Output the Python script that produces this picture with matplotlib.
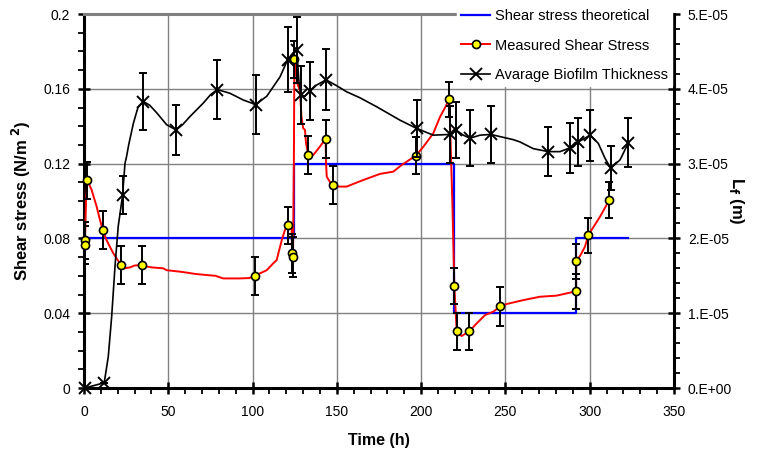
import matplotlib
matplotlib.use("Agg")
import matplotlib.pyplot as plt
from matplotlib.lines import Line2D
from matplotlib.ticker import FixedLocator, FixedFormatter, MultipleLocator
import numpy as np

plt.rcParams['font.family'] = ['Liberation Sans', 'DejaVu Sans']

# ---- Theoretical shear stress (step) ----
theo_x = [0, 124.4, 124.4, 219.5, 219.5, 292.0, 292.0, 323.0]
theo_y = [0.08, 0.08, 0.12, 0.12, 0.04, 0.04, 0.08, 0.08]

# ---- Measured shear stress: continuous trace ----
meas_line_x = [0.3, 0.6, 1.2, 2.0, 4.5, 7.5, 9.5, 11.1, 13.4, 17.4, 21.9, 24.0, 27.3, 30.0,
               34.6, 37.0, 40.2, 47.0, 49.0, 57.0, 61.0, 66.0, 72.8, 78.0, 82.6, 92.5, 98.0,
               101.4, 104.4, 108.4, 112.3, 114.3, 115.3, 117.3, 119.2, 120.8, 122.0, 123.2,
               123.4, 124.0, 124.5, 124.8, 125.5, 126.5, 128.1, 129.0, 130.0, 131.1, 131.7,
               133.0, 136.0, 139.0, 143.3, 143.6, 144.0, 146.0, 147.9, 151.0, 155.8, 165.0,
               175.6, 183.5, 188.5, 196.8, 201.3, 207.2, 211.2, 214.2, 216.7, 218.5, 219.7,
               221.1, 224.0, 228.6, 233.0, 237.9, 242.8, 247.0, 250.7, 260.6, 270.5, 280.4,
               286.3, 291.9, 292.0, 294.5, 297.2, 299.2, 306.1, 311.6]
meas_line_y = [0.076, 0.079, 0.100, 0.111, 0.106, 0.097, 0.0898, 0.0845, 0.079, 0.072, 0.0658,
               0.064, 0.0645, 0.0655, 0.0658, 0.065, 0.0645, 0.0640, 0.063, 0.0622, 0.0617,
               0.061, 0.0604, 0.060, 0.0586, 0.0586, 0.0588, 0.060, 0.0613, 0.063, 0.0667,
               0.0684, 0.072, 0.079, 0.0845, 0.087, 0.088, 0.0854, 0.071, 0.070, 0.120, 0.1757,
               0.170, 0.163, 0.159, 0.145, 0.139, 0.138, 0.131, 0.1246, 0.1246, 0.128, 0.1331,
               0.120, 0.113, 0.110, 0.1086, 0.1077, 0.1077, 0.111, 0.1145, 0.1157, 0.1193,
               0.1242, 0.129, 0.1362, 0.145, 0.150, 0.1544, 0.100, 0.0545, 0.0303, 0.0278,
               0.0303, 0.0346, 0.039, 0.0408, 0.0437, 0.0449, 0.047, 0.0488, 0.0494, 0.0506,
               0.0517, 0.0677, 0.071, 0.0756, 0.0818, 0.0916, 0.1005]

# ---- Measured shear stress: sampled points with error ----
meas_pt_x = [0.6, 0.6, 2.0, 11.1, 21.9, 34.6, 101.4, 120.8, 123.4, 124.0, 124.8, 133.0, 143.3,
             147.9, 196.8, 216.7, 219.7, 221.1, 228.6, 247.0, 291.9, 292.0, 299.2, 311.6]
meas_pt_y = [0.0790, 0.0765, 0.111, 0.0845, 0.0658, 0.0658, 0.060, 0.087, 0.072, 0.070, 0.1757,
             0.1246, 0.1331, 0.1086, 0.1242, 0.1544, 0.0545, 0.0303, 0.0303, 0.0437, 0.0517,
             0.0677, 0.0816, 0.1005]
meas_pt_err = [0.010, 0.010, 0.0099, 0.010, 0.010, 0.010, 0.0103, 0.010, 0.0105, 0.0105, 0.010,
               0.010, 0.010, 0.010, 0.010, 0.0095, 0.0095, 0.010, 0.010, 0.0105, 0.0095, 0.0095,
               0.0095, 0.0095]

# ---- Average biofilm thickness (units of 1e-5 m): continuous trace ----
bio_line_x = [0.5, 12.0, 14.4, 16.4, 18.4, 20.3, 22.9, 24.3, 25.3, 26.5, 29.3, 32.0, 35.2, 39.0,
              43.1, 49.0, 54.6, 58.5, 62.9, 70.8, 75.0, 79.1, 86.6, 94.5, 101.8, 108.4, 116.3,
              120.8, 124.0, 126.2, 127.5, 128.6, 131.0, 134.0, 138.0, 143.6, 150.0, 155.8,
              163.7, 173.6, 187.5, 197.4, 207.2, 217.1, 220.7, 225.0, 229.0, 234.9, 241.3,
              247.0, 254.7, 258.6, 266.5, 275.4, 282.4, 288.3, 293.3, 300.2, 305.1, 309.1,
              312.4, 318.0, 323.0]
bio_line_y = [0.0, 0.07, 0.42, 0.95, 1.63, 2.16, 2.58, 3.00, 3.10, 3.25, 3.54, 3.75, 3.83, 3.78,
              3.68, 3.52, 3.45, 3.52, 3.63, 3.81, 3.92, 3.99, 3.94, 3.85, 3.79, 3.90, 4.16,
              4.39, 4.48, 4.52, 4.10, 3.92, 3.90, 3.97, 4.05, 4.12, 4.04, 3.96, 3.88, 3.76,
              3.58, 3.47, 3.38, 3.39, 3.45, 3.38, 3.34, 3.38, 3.39, 3.36, 3.32, 3.29, 3.20,
              3.16, 3.16, 3.21, 3.29, 3.38, 3.27, 3.07, 2.94, 3.05, 3.28]

# ---- Average biofilm thickness: sampled points with error (1e-5 m) ----
bio_pt_x = [0.5, 12.0, 22.9, 35.2, 54.6, 79.1, 101.8, 120.8, 126.2, 128.6, 134.0, 143.6, 197.4,
            217.1, 220.7, 229.0, 241.3, 275.4, 288.3, 293.3, 300.2, 312.4, 323.0]
bio_pt_y = [0.0, 0.07, 2.58, 3.83, 3.45, 3.99, 3.79, 4.39, 4.52, 3.92, 3.97, 4.12, 3.47, 3.39,
            3.45, 3.34, 3.39, 3.16, 3.21, 3.29, 3.38, 2.94, 3.28]
bio_pt_err = [0.0, 0.0, 0.25, 0.375, 0.34, 0.39, 0.39, 0.43, 0.44, 0.39, 0.39, 0.41, 0.38, 0.38,
              0.38, 0.37, 0.38, 0.33, 0.33, 0.32, 0.34, 0.29, 0.33]
bio_scale = 1e-5

# ---- ticks ----
x_ticks = [0, 50, 100, 150, 200, 250, 300, 350]
x_labels = ['0', '50', '100', '150', '200', '250', '300', '350']
yl_ticks = [0, 0.04, 0.08, 0.12, 0.16, 0.2]
yl_labels = ['0', '0.04', '0.08', '0.12', '0.16', '0.2']
yr_ticks = [0, 1e-5, 2e-5, 3e-5, 4e-5, 5e-5]
yr_labels = ['0.E+00', '1.E-05', '2.E-05', '3.E-05', '4.E-05', '5.E-05']

fig = plt.figure(figsize=(7.61, 4.61), dpi=100)
ax = fig.add_axes([84/761, 73/461, 590/761, 374/461])
ax2 = ax.twinx()

ax.set_xlim(0, 350)
ax.set_ylim(0, 0.2)
ax2.set_ylim(0, 5e-5)

# grid
ax.grid(True, which='major', color='#808080', linewidth=1.0)
ax.set_axisbelow(True)

# theoretical
ax.plot(theo_x, theo_y, color='#0000ff', lw=1.6, zorder=3)
# measured
ax.plot(meas_line_x, meas_line_y, color='#ff0000', lw=1.4, zorder=3)
ax.errorbar(meas_pt_x, meas_pt_y, yerr=meas_pt_err, fmt='none', ecolor='black',
            elinewidth=1.4, capsize=3, capthick=1.4, zorder=4)
ax.plot(meas_pt_x, meas_pt_y, ls='none', marker='o', ms=5.8, mfc='#ffff00', mec='black',
        mew=1.2, zorder=6, clip_on=False)

# biofilm on right axis
bx = np.array(bio_pt_x)
by = np.array(bio_pt_y) * bio_scale
be = np.array(bio_pt_err) * bio_scale
ax2.plot(bio_line_x, np.array(bio_line_y) * bio_scale, color='black', lw=1.2, zorder=3)
ax2.errorbar(bx, by, yerr=be, fmt='none', ecolor='black', elinewidth=1.4, capsize=3,
             capthick=1.4, zorder=4)
ax2.plot(bx, by, ls='none', marker='x', ms=8, mec='black', mew=1.4, zorder=5, clip_on=False)

# spines
ax2.spines['top'].set_visible(False)
ax.spines['top'].set_color('#808080')
ax.spines['top'].set_linewidth(2.2)
ax.spines['left'].set_linewidth(2.2)
ax.spines['bottom'].set_linewidth(2.2)
ax.spines['right'].set_visible(False)
ax2.spines['left'].set_visible(False)
ax2.spines['bottom'].set_visible(False)
ax2.spines['right'].set_linewidth(2.2)

# ticks
ax.xaxis.set_major_locator(FixedLocator(x_ticks))
ax.xaxis.set_major_formatter(FixedFormatter(x_labels))
ax.xaxis.set_minor_locator(MultipleLocator(10))
ax.yaxis.set_major_locator(FixedLocator(yl_ticks))
ax.yaxis.set_major_formatter(FixedFormatter(yl_labels))
ax.yaxis.set_minor_locator(MultipleLocator(0.01))
ax2.yaxis.set_major_locator(FixedLocator(yr_ticks))
ax2.yaxis.set_major_formatter(FixedFormatter(yr_labels))
ax2.yaxis.set_minor_locator(MultipleLocator(2e-6))

ax.tick_params(axis='x', which='major', direction='inout', length=8, width=1.8, pad=8,
               labelsize=10)
ax.tick_params(axis='x', which='minor', direction='out', length=4, width=1.3)
ax.tick_params(axis='y', which='major', direction='inout', length=8, width=1.8, pad=6,
               labelsize=10)
ax.tick_params(axis='y', which='minor', direction='out', length=4, width=1.3)
ax2.tick_params(axis='y', which='major', direction='inout', length=8, width=1.8, pad=6,
                labelsize=10)
ax2.tick_params(axis='y', which='minor', direction='out', length=4, width=1.3)

ax.set_xlabel('Time (h)', fontsize=11.5, fontweight='bold', labelpad=10)
ax.set_ylabel(r'Shear stress (N/m$^{\ \mathbf{2}}$)', fontsize=12, fontweight='bold',
              labelpad=7)
ax2.set_ylabel(r'L$_{\mathbf{f}}$ (m)', fontsize=12, fontweight='bold', rotation=270,
               labelpad=10)

# legend
handles = [Line2D([], [], color='#0000ff', lw=1.6),
           Line2D([], [], color='#ff0000', lw=1.4, marker='o', ms=5.8, mfc='#ffff00',
                  mec='black', mew=1.2),
           Line2D([], [], color='black', lw=1.2, marker='x', ms=8, mew=1.4)]
labels = ['Shear stress theoretical', 'Measured Shear Stress', 'Avarage Biofilm Thickness']
leg = ax2.legend(handles, labels, loc='upper left', bbox_to_anchor=(0.633, 1.024),
                 frameon=True, facecolor='white', edgecolor='white', framealpha=1,
                 fancybox=False, fontsize=10.5, handlelength=2.0, handletextpad=0.35,
                 labelspacing=1.09, borderpad=0.25, borderaxespad=0)
leg.set_zorder(10)

fig.savefig('out.png', dpi=100)
